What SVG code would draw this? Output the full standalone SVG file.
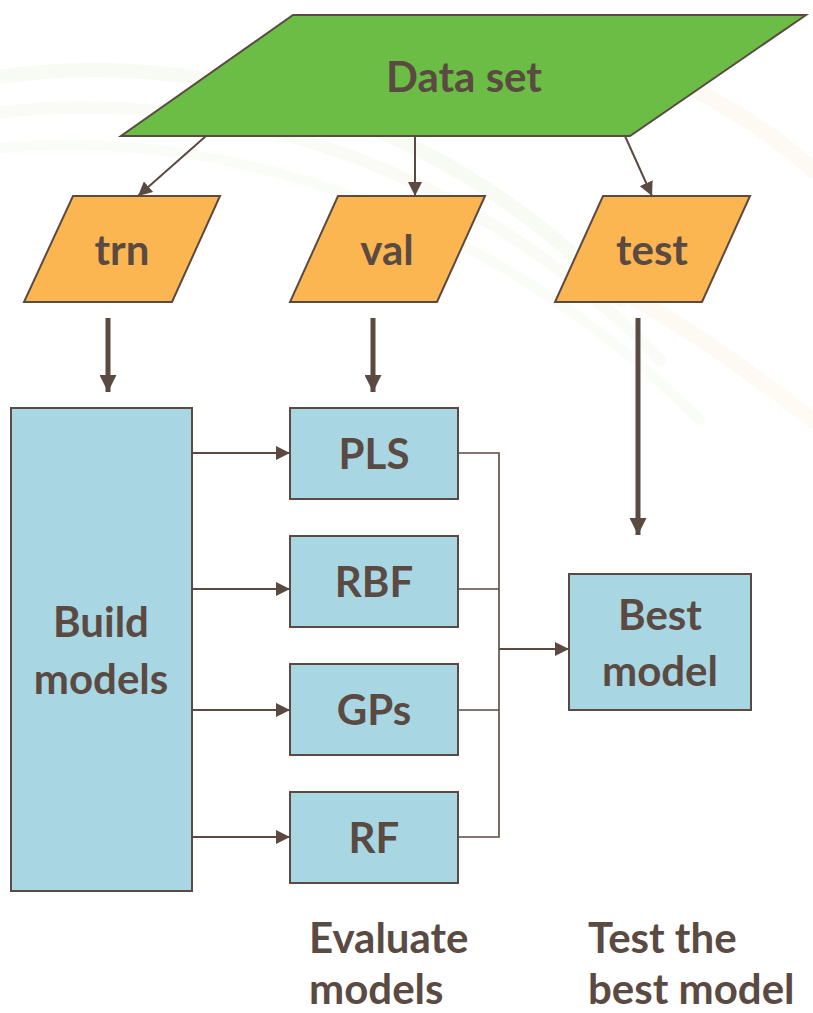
<svg xmlns="http://www.w3.org/2000/svg" width="813" height="1013" viewBox="0 0 813 1013">
<defs>
<style>
.lbl{font-family:Lato,"Open Sans","Liberation Sans",sans-serif;font-weight:bold;fill:#5A4A42;text-anchor:middle;font-size:42px}
.cap{text-anchor:start}
.box{fill:#A8D6E2;stroke:#5A4A42;stroke-width:2}
.para{fill:#FBB652;stroke:#5A4A42;stroke-width:2}
.thin{stroke:#5A4A42;stroke-width:2;fill:none}
.thick{stroke:#5A4A42;stroke-width:5;fill:none}
.join{stroke:#5A4A42;stroke-width:1.6;fill:none}
.bg{fill:none;stroke-linecap:round}
</style>
<marker id="ah" viewBox="0 0 10 10" refX="10" refY="5" markerWidth="7" markerHeight="7" markerUnits="strokeWidth" orient="auto">
<path d="M0,0 L10,5 L0,10 z" fill="#5A4A42"/>
</marker>
<marker id="ahT" viewBox="0 0 10 10" refX="10" refY="5" markerWidth="3.4" markerHeight="3.4" markerUnits="strokeWidth" orient="auto">
<path d="M0,0 L10,5 L0,10 z" fill="#5A4A42"/>
</marker>
</defs>
<rect width="813" height="1013" fill="#ffffff"/>
<g id="background" opacity="0.4">
<path class="bg" d="M-20,80 C200,40 450,120 620,300" stroke="#EEF5E4" stroke-width="14"/>
<path class="bg" d="M-20,115 C220,80 480,170 660,360" stroke="#F3F7EC" stroke-width="12"/>
<path class="bg" d="M-20,150 C230,120 500,220 700,420" stroke="#F5F8EE" stroke-width="10"/>
<path class="bg" d="M540,20 C650,60 760,120 813,170" stroke="#FBF3E2" stroke-width="16"/>
<path class="bg" d="M600,280 C680,320 760,380 813,420" stroke="#FCF5E6" stroke-width="16"/>
</g>
<g id="connectors">
<line class="thin" x1="206" y1="136" x2="138" y2="196" marker-end="url(#ah)"/>
<line class="thin" x1="415" y1="136" x2="415" y2="196" marker-end="url(#ah)"/>
<line class="thin" x1="625" y1="136" x2="652" y2="196" marker-end="url(#ah)"/>
<line class="thick" x1="108" y1="318" x2="108" y2="392" marker-end="url(#ahT)"/>
<line class="thick" x1="373" y1="318" x2="373" y2="392" marker-end="url(#ahT)"/>
<line class="thick" x1="638" y1="318" x2="638" y2="535" marker-end="url(#ahT)"/>
<line class="thin" x1="192" y1="453" x2="290" y2="453" marker-end="url(#ah)"/>
<line class="thin" x1="192" y1="589" x2="290" y2="589" marker-end="url(#ah)"/>
<line class="thin" x1="192" y1="710" x2="290" y2="710" marker-end="url(#ah)"/>
<line class="thin" x1="192" y1="837" x2="290" y2="837" marker-end="url(#ah)"/>
<path class="join" d="M458,453 H499 V837 H458 M458,589 H499 M458,710 H499"/>
<line class="thin" x1="499" y1="649" x2="569" y2="649" marker-end="url(#ah)"/>
</g>
<g id="dataset">
<polygon points="293,15 806,15 630,136 121,136" fill="#6BBD45" stroke="#5A4A42" stroke-width="2"/>
<text class="lbl" x="464" y="92">Data set</text>
</g>
<g id="trn">
<polygon class="para" points="73,196 220,196 172,302 24,302"/>
<text class="lbl" x="122" y="265">trn</text>
</g>
<g id="val">
<polygon class="para" points="338,196 485,196 437,302 290,302"/>
<text class="lbl" x="387" y="265">val</text>
</g>
<g id="test">
<polygon class="para" points="603,196 750,196 702,302 555,302"/>
<text class="lbl" x="652" y="265">test</text>
</g>
<g id="build">
<rect class="box" x="11" y="408" width="181" height="483"/>
<text class="lbl" x="101" y="637">Build</text>
<text class="lbl" x="101" y="694">models</text>
</g>
<g id="pls">
<rect class="box" x="290" y="408" width="168" height="91"/>
<text class="lbl" x="374" y="469">PLS</text>
</g>
<g id="rbf">
<rect class="box" x="290" y="536" width="168" height="91"/>
<text class="lbl" x="374" y="597">RBF</text>
</g>
<g id="gps">
<rect class="box" x="290" y="664" width="168" height="91"/>
<text class="lbl" x="374" y="725">GPs</text>
</g>
<g id="rf">
<rect class="box" x="290" y="792" width="168" height="91"/>
<text class="lbl" x="374" y="853">RF</text>
</g>
<g id="best">
<rect class="box" x="569" y="574" width="182" height="136"/>
<text class="lbl" x="660" y="630">Best</text>
<text class="lbl" x="660" y="686">model</text>
</g>
<g id="captions">
<text class="lbl cap" x="309" y="953">Evaluate</text>
<text class="lbl cap" x="309" y="1004">models</text>
<text class="lbl cap" x="588" y="953">Test the</text>
<text class="lbl cap" x="588" y="1004">best model</text>
</g>
</svg>
